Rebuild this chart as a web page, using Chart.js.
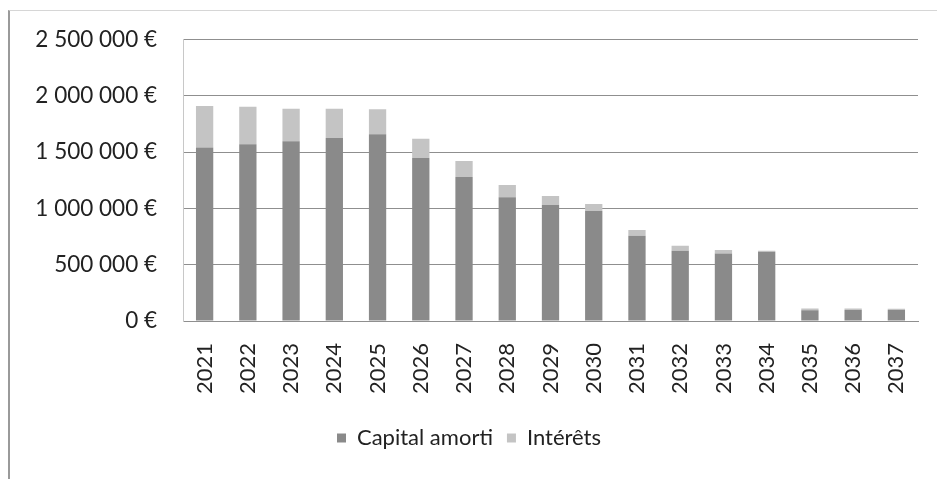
<!doctype html>
<html lang="fr">
<head>
<meta charset="utf-8">
<title>Remboursement</title>
<style>
  html, body { margin: 0; padding: 0; background: #fff; }
  #wrap { position: relative; width: 937px; height: 479px; }
  #frame { position: absolute; left: 8px; top: 10px; right: 0; bottom: 0;
           border-left: 2px solid #9a9a9a; border-top: 1px solid #d6d6d6; }
  canvas { position: absolute; left: 0; top: 0; }
</style>
</head>
<body>
<div id="wrap">
  <div id="frame"></div>
  <canvas id="myChart" width="937" height="479"></canvas>
</div>
<script src="https://cdn.jsdelivr.net/npm/chart.js@4.4.0/dist/chart.umd.min.js"></script>
<script>
// years of the repayment schedule
var annees = ['2021', '2022', '2023', '2024', '2025', '2026', '2027', '2028', '2029',
              '2030', '2031', '2032', '2033', '2034', '2035', '2036', '2037'];
// principal repaid each year (€)
var capitalAmorti = [1540000, 1570000, 1596000, 1625000, 1658000, 1448000, 1279000, 1098000, 1030000,
                     977000, 757000, 624000, 600000, 615000, 95000, 98000, 98000];
// interest paid each year (€)
var interets = [369000, 333000, 289000, 260000, 222000, 171000, 142000, 110000, 80000,
                62000, 51000, 45000, 30000, 9000, 17000, 12000, 10000];
var yTicks = [0, 500000, 1000000, 1500000, 2000000, 2500000];

function euros(v) {
  return String(v).replace(/\B(?=(\d{3})+(?!\d))/g, ' ') + ' €';
}

Chart.defaults.font.family = 'Lato, "Open Sans", sans-serif';
Chart.defaults.color = '#222';

var ctx = document.getElementById('myChart').getContext('2d');
var chart = new Chart(ctx, {
  type: 'bar',
  data: {
    labels: annees,
    datasets: [
      { label: 'Capital amorti', data: capitalAmorti, backgroundColor: '#8a8a8a',
        barPercentage: 0.4, categoryPercentage: 1.0 },
      { label: 'Intérêts', data: interets, backgroundColor: '#c4c4c4',
        barPercentage: 0.4, categoryPercentage: 1.0 }
    ]
  },
  options: {
    responsive: false,
    animation: false,
    layout: { padding: { left: 20, top: 30, right: 19, bottom: 20 } },
    plugins: {
      tooltip: { enabled: false },
      legend: {
        position: 'bottom',
        labels: { boxWidth: 9, boxHeight: 9, padding: 14, font: { size: 22 }, color: '#222' }
      }
    },
    scales: {
      x: {
        stacked: true,
        grid: { display: false, drawTicks: false },
        border: { color: '#8f8f8f' },
        ticks: { minRotation: 90, maxRotation: 90, padding: 22, font: { size: 22 }, color: '#222' },
        afterFit: function (s) { s.height = 92; s.paddingRight = 0; s.paddingLeft = 0; }
      },
      y: {
        stacked: true,
        min: 0, max: 2500000,
        afterBuildTicks: function (s) { s.ticks = yTicks.map(function (v) { return { value: v }; }); },
        grid: { color: '#8f8f8f', drawTicks: false },
        border: { color: '#c8c8c8' },
        ticks: { padding: 26, font: { size: 22.5 }, color: '#222', callback: euros },
        afterFit: function (s) { s.width = 163; }
      }
    }
  }
});
</script>
</body>
</html>
